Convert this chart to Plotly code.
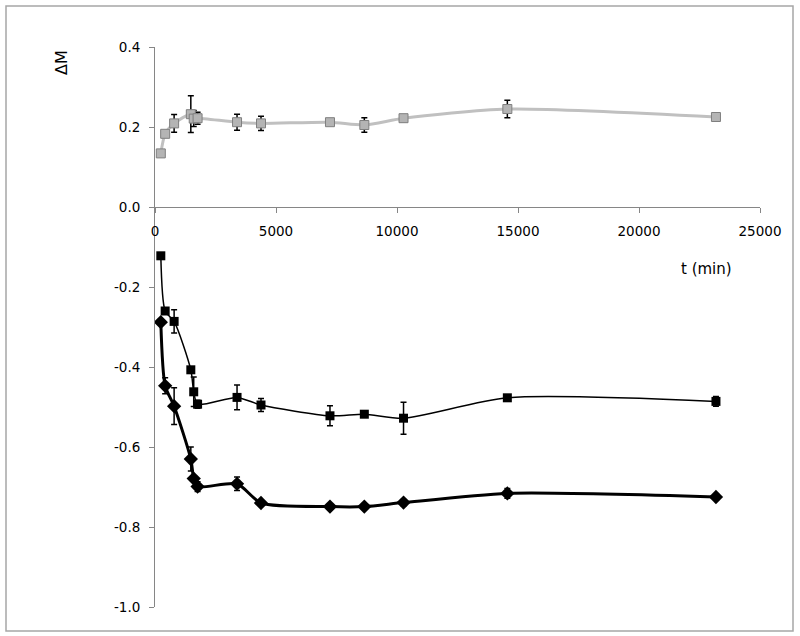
import plotly.graph_objects as go

t_min = [240, 420, 790, 1480, 1600, 1760, 3390, 4380, 7230, 8650, 10270, 14560, 23180]

gray_dm = [0.134, 0.183, 0.209, 0.232, 0.221, 0.222, 0.212, 0.209, 0.212, 0.205, 0.222, 0.245, 0.225]
gray_err = [0.0, 0.005, 0.022, 0.046, 0.020, 0.015, 0.020, 0.018, 0.0, 0.018, 0.008, 0.022, 0.0]

sq_dm = [-0.122, -0.260, -0.286, -0.407, -0.462, -0.493, -0.476, -0.495, -0.522, -0.518, -0.528, -0.477, -0.486]
sq_err = [0.0, 0.0, 0.029, 0.0, 0.037, 0.010, 0.031, 0.016, 0.025, 0.0, 0.040, 0.006, 0.012]

dia_dm = [-0.288, -0.447, -0.498, -0.630, -0.679, -0.699, -0.692, -0.740, -0.749, -0.749, -0.739, -0.716, -0.725]
dia_err = [0.0, 0.020, 0.046, 0.030, 0.0, 0.012, 0.017, 0.006, 0.006, 0.006, 0.008, 0.012, 0.006]

x_ticks = [0, 5000, 10000, 15000, 20000, 25000]
y_ticks = [0.4, 0.2, 0.0, -0.2, -0.4, -0.6, -0.8, -1.0]

SMOOTH = 0.7

def err(vals):
    return dict(type="data", array=vals, visible=True, color="black", thickness=1.5, width=3)

fig = go.Figure()
fig.add_trace(go.Scatter(
    x=t_min, y=gray_dm, mode="lines+markers", error_y=err(gray_err),
    line=dict(color="#c0c0c0", width=3, shape="spline", smoothing=SMOOTH),
    marker=dict(symbol="square", size=9, color="#b4b4b4", line=dict(color="#7f7f7f", width=1)),
))
fig.add_trace(go.Scatter(
    x=t_min, y=sq_dm, mode="lines+markers", error_y=err(sq_err),
    line=dict(color="black", width=1.5, shape="spline", smoothing=SMOOTH),
    marker=dict(symbol="square", size=9, color="black"),
))
fig.add_trace(go.Scatter(
    x=t_min, y=dia_dm, mode="lines+markers", error_y=err(dia_err),
    line=dict(color="black", width=3, shape="spline", smoothing=SMOOTH),
    marker=dict(symbol="diamond", size=11, color="black"),
))

axis_font = dict(family="DejaVu Sans", size=13.5, color="black")
fig.update_layout(
    width=800, height=636,
    margin=dict(l=155, r=40, t=47, b=29),
    paper_bgcolor="white", plot_bgcolor="white",
    showlegend=False,
    xaxis=dict(
        range=[0, 25000], tickvals=x_ticks, ticktext=[str(v) for v in x_ticks],
        showgrid=False, zeroline=False, showline=True, linecolor="#868686", linewidth=1,
        ticks="outside", ticklen=5, tickcolor="#868686", ticklabelstandoff=7,
        anchor="free", position=(0 - (-1.0)) / 1.4, tickfont=axis_font,
    ),
    yaxis=dict(
        range=[-1.0, 0.4], tickvals=y_ticks, ticktext=["%.1f" % v for v in y_ticks],
        showgrid=False, zeroline=False, showline=True, linecolor="#868686", linewidth=1,
        ticks="outside", ticklen=5, tickcolor="#868686", tickfont=axis_font, ticklabelstandoff=6,
    ),
    annotations=[
        dict(text="ΔM", xref="paper", yref="paper", x=(61 - 155) / 605, y=(607 - 63) / 560,
             xanchor="center", yanchor="middle",
             showarrow=False, textangle=-90, font=dict(family="DejaVu Sans", size=16, color="black")),
        dict(text="t (min)", xref="paper", yref="paper", x=(706 - 155) / 605, y=(607 - 269) / 560,
             xanchor="center", yanchor="middle",
             showarrow=False, font=dict(family="DejaVu Sans", size=15, color="black")),
    ],
    shapes=[
        dict(type="rect", xref="paper", yref="paper",
             x0=(6 - 155) / 605, x1=(793 - 155) / 605, y0=(607 - 631) / 560, y1=(607 - 6) / 560,
             line=dict(color="#a6a6a6", width=1.5)),
    ],
)

fig.write_html("out.html", config={"displayModeBar": False},
               post_script="document.body.style.margin='0px';document.body.style.overflow='hidden';")
